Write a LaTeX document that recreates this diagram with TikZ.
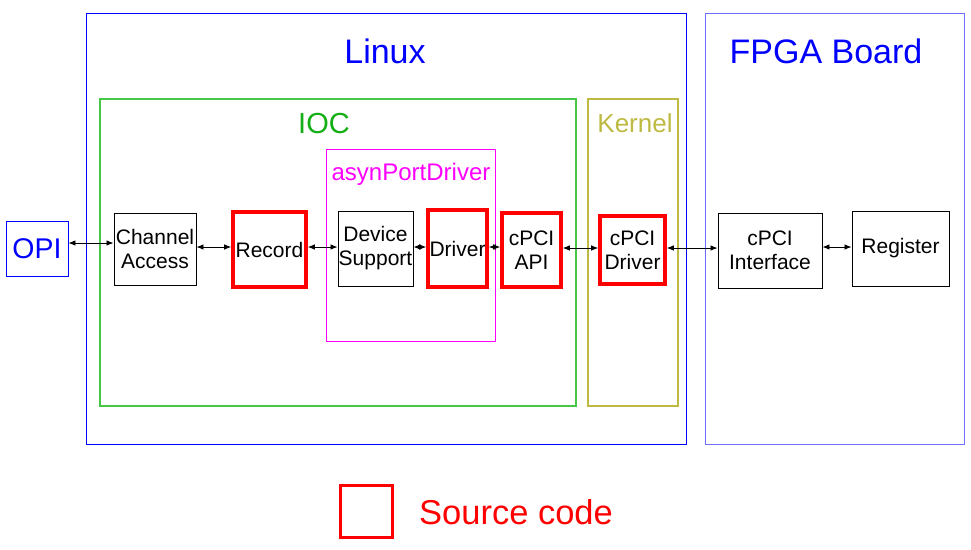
\documentclass[tikz,border=0pt]{standalone}
\usepackage{fontspec}
\setmainfont{Liberation Sans}
\usetikzlibrary{arrows.meta}
\definecolor{myblue}{RGB}{0,0,255}
\definecolor{lightblue}{RGB}{110,110,255}
\definecolor{iocgreen}{RGB}{20,175,20}
\definecolor{iocline}{RGB}{70,200,70}
\definecolor{kolive}{RGB}{190,185,65}
\definecolor{mag}{RGB}{255,0,255}
\tikzset{
  cont/.style={draw, line width=1pt, inner sep=0pt},
  blk/.style={draw=black, line width=0.9pt, inner sep=0pt, align=center, font=\fontsize{21}{24}\selectfont},
  src/.style={draw=red, line width=3.6pt, inner sep=0pt, align=center, font=\fontsize{21}{24}\selectfont},
  title/.style={inner sep=0pt},
  lnk/.style={line width=0.8pt, {Latex[length=7pt,width=5.5pt]}-{Latex[length=7pt,width=5.5pt]}}
}
\begin{document}
\begin{tikzpicture}[x=1pt,y=-1pt]
\useasboundingbox (0,0) rectangle (971,549);
% containers
\draw[cont, myblue] (86,13) rectangle (686,444);
\draw[cont, lightblue] (705,13) rectangle (964,444);
\draw[cont, iocline, line width=1.1pt] (100,99) rectangle (576,406);
\draw[cont, kolive, line width=1.6pt] (588,99) rectangle (678,406);
\draw[cont, mag] (326,149) rectangle (495,341);
\node[title, text=myblue, font=\fontsize{34}{38}\selectfont] (linux) at (385,51) {Linux};
\node[title, text=myblue, font=\fontsize{34}{38}\selectfont] (fpga) at (826,51) {FPGA Board};
\node[title, text=iocgreen, font=\fontsize{29}{32}\selectfont] (ioc) at (324,124) {IOC};
\node[title, text=kolive, font=\fontsize{26}{30}\selectfont] (kernel) at (635,123) {Kernel};
\node[title, text=mag, font=\fontsize{24}{28}\selectfont] (apd) at (411,174) {asynPortDriver};
% blocks
\node[draw=myblue, line width=0.9pt, inner sep=0pt, minimum width=62pt, minimum height=55pt, text=myblue, font=\fontsize{28.5}{32}\selectfont] (opi) at (37,248.5) {OPI};
\node[blk, minimum width=82pt, minimum height=72pt] (ca) at (155,249) {Channel\\Access};
\node[src, minimum width=73pt, minimum height=75pt] (rec) at (269.5,249.5) {Record};
\node[blk, minimum width=75pt, minimum height=75pt] (ds) at (375.5,248.5) {Device\\Support};
\node[src, minimum width=59pt, minimum height=77pt] (drv) at (457.5,248.5) {Driver};
\node[src, minimum width=59pt, minimum height=74pt] (api) at (531.5,250) {cPCI\\API};
\node[src, minimum width=65pt, minimum height=68pt] (cdrv) at (632.5,250) {cPCI\\Driver};
\node[blk, minimum width=104pt, minimum height=75pt] (cif) at (770,250.5) {cPCI\\Interface};
\node[blk, minimum width=97pt, minimum height=75pt] (reg) at (900.5,248.5) {Register};
% links
\draw[lnk] (opi.east |- 0,243) -- (ca.west |- 0,243);
\draw[lnk] (ca.east |- 0,247) -- (rec.west |- 0,247);
\draw[lnk] (rec.east |- 0,247) -- (ds.west |- 0,247);
\draw[lnk] (ds.east |- 0,247) -- (drv.west |- 0,247);
\draw[lnk] (drv.east |- 0,247) -- (api.west |- 0,247);
\draw[lnk] (api.east |- 0,248) -- (cdrv.west |- 0,248);
\draw[lnk] (cdrv.east |- 0,248) -- (cif.west |- 0,248);
\draw[lnk] (cif.east |- 0,247) -- (reg.west |- 0,247);
% legend
\node[draw=red, line width=3.6pt, minimum width=52pt, minimum height=52pt, inner sep=0pt] (leg) at (366.5,511.5) {};
\node[title, text=red, font=\fontsize{34.5}{38}\selectfont, anchor=west] (legt) at (419,512) {Source code};
\end{tikzpicture}
\end{document}
